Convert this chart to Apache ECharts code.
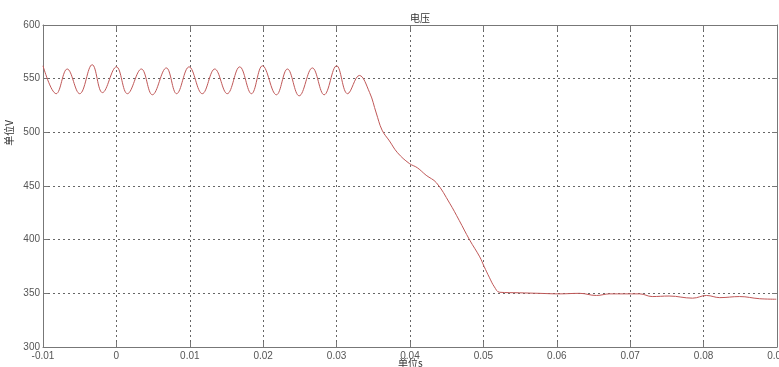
<!DOCTYPE html>
<html>
<head>
<meta charset="utf-8">
<script src="https://cdn.jsdelivr.net/npm/echarts@6/dist/echarts.min.js"></script>
<style>
  html, body { margin: 0; padding: 0; background: #fff; }
  #chart { width: 779px; height: 367px; }
</style>
</head>
<body>
<div id="chart"></div>
<script>
// temps (s) et tension (V)
const times = [
  -0.0100, -0.0082, -0.0067, -0.0050, -0.0033, -0.0019, 0.0000, 0.0015,
  0.0034, 0.0049, 0.0068, 0.0082, 0.0099, 0.0117, 0.0134, 0.0151,
  0.0168, 0.0184, 0.0199, 0.0218, 0.0233, 0.0249, 0.0267, 0.0283,
  0.0300, 0.0315, 0.0331, 0.0345, 0.0354, 0.0362, 0.0372, 0.0383,
  0.0399, 0.0410, 0.0422, 0.0436, 0.0454, 0.0467, 0.0481, 0.0495,
  0.0501, 0.0508, 0.0515, 0.0522, 0.0549, 0.0576, 0.0603, 0.0631,
  0.0654, 0.0672, 0.0713, 0.0730, 0.0753, 0.0785, 0.0804, 0.0822,
  0.0849, 0.0876, 0.0899
];
const voltage = [
  562, 536, 559, 536, 563, 537, 561, 536,
  559, 535, 560, 536, 561, 536, 559, 536,
  561, 536, 562, 535, 559, 534, 560, 535,
  562, 536, 553, 537, 518, 502, 492, 481,
  471, 467, 460, 453, 434, 418, 400, 384,
  375, 365, 356, 351, 350.5, 350, 349.5, 350,
  348, 349.5, 349.5, 347, 347.5, 345.5, 348, 346,
  347, 345, 344.5
];
const xTicks = { min: -0.01, max: 0.09, step: 0.01 };
const yTicks = { min: 300, max: 600, step: 50 };

const chart = echarts.init(document.getElementById('chart'));

const font = 'Liberation Sans, Arial, sans-serif';
const cjk = 'Noto Sans CJK SC';
const axisGray = '#777';
const gridLine = { show: true, lineStyle: { color: '#666', type: [2, 3], width: 1 } };

const option = {
  animation: false,
  backgroundColor: '#fff',
  title: {
    text: '电压',
    left: 405,
    top: 8,
    textStyle: { fontSize: 10, fontWeight: 'normal', color: '#333', fontFamily: cjk }
  },
  // titres des axes (placés à la main, comme sur l'original)
  graphic: [{
    type: 'text',
    left: 4,
    top: 120,
    rotation: Math.PI / 2,
    style: { text: '单位V', fontSize: 10, fill: '#333', fontFamily: cjk }
  }, {
    type: 'text',
    left: 398,
    top: 358,
    style: { text: '单位s', fontSize: 10, fill: '#333', fontFamily: cjk }
  }],
  grid: { left: 43, right: 2, top: 25, bottom: 20, outerBoundsMode: 'none', containLabel: false },
  xAxis: [{
    type: 'value',
    min: xTicks.min,
    max: xTicks.max,
    interval: xTicks.step,
    axisLine: { onZero: false, lineStyle: { color: axisGray } },
    axisTick: { inside: true, length: 5, lineStyle: { color: axisGray } },
    axisLabel: {
      color: '#555', fontSize: 10, fontFamily: font, margin: 4,
      formatter: v => String(Math.round(v * 100) / 100)
    },
    splitLine: gridLine
  }, {
    type: 'value',
    position: 'top',
    min: xTicks.min,
    max: xTicks.max,
    interval: xTicks.step,
    axisLine: { onZero: false, lineStyle: { color: axisGray } },
    axisTick: { inside: true, length: 5, lineStyle: { color: axisGray } },
    axisLabel: { show: false },
    splitLine: { show: false }
  }],
  yAxis: [{
    type: 'value',
    min: yTicks.min,
    max: yTicks.max,
    interval: yTicks.step,
    axisLine: { show: true, onZero: false, lineStyle: { color: axisGray } },
    axisTick: { show: true, inside: true, length: 5, lineStyle: { color: axisGray } },
    axisLabel: { color: '#555', fontSize: 10, fontFamily: font, margin: 3 },
    splitLine: gridLine
  }, {
    type: 'value',
    position: 'right',
    min: yTicks.min,
    max: yTicks.max,
    interval: yTicks.step,
    axisLine: { show: true, onZero: false, lineStyle: { color: axisGray } },
    axisTick: { show: true, inside: true, length: 5, lineStyle: { color: axisGray } },
    axisLabel: { show: false },
    splitLine: { show: false }
  }],
  series: [{
    type: 'line',
    data: times.map((t, i) => [t, voltage[i]]),
    smooth: 0.4,
    showSymbol: false,
    lineStyle: { color: '#c05858', width: 1 }
  }]
};

chart.setOption(option);
</script>
</body>
</html>
